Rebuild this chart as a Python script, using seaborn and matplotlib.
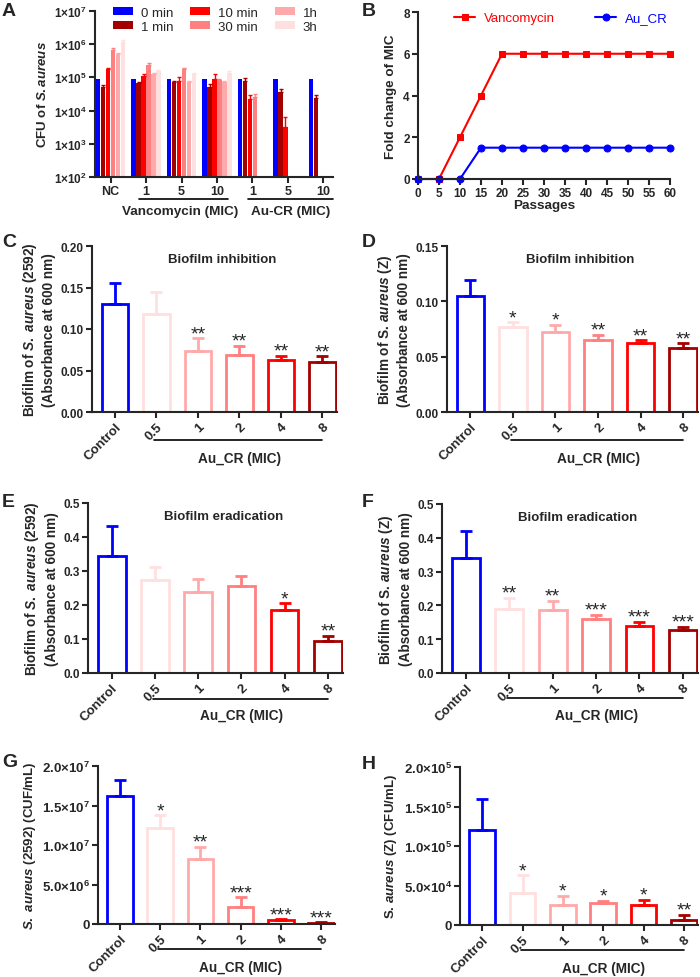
import numpy as np
import pandas as pd
import matplotlib
matplotlib.use('Agg')
import matplotlib.pyplot as plt
import seaborn as sns

nan = np.nan

# ---- Panel A: time-kill (log CFU) ----
groups = ['NC', 'V1', 'V5', 'V10', 'A1', 'A5', 'A10']
group_labels = ['NC', '1', '5', '10', '1', '5', '10']
times = ['0 min', '1 min', '10 min', '30 min', '1h', '3h']
cfu_0min = [8.7e4, 8.7e4, 8.7e4, 8.7e4, 8.7e4, 8.7e4, 8.7e4]
cfu_1min = [5.3e4, 6.9e4, 7.2e4, 5.3e4, 7.8e4, 3.6e4, 2.35e4]
cfu_10min = [1.8e5, 1.1e5, 7.8e4, 9.1e4, 2.2e4, 3.3e3, nan]
cfu_30min = [6.7e5, 2.3e5, 1.75e5, 8.3e4, 2.6e4, nan, nan]
cfu_1h = [5.2e5, 1.3e5, 7.2e4, 7.2e4, nan, nan, nan]
cfu_3h = [1.2e6, 1.55e5, 1.23e5, 1.38e5, nan, nan, nan]
sd_0min = [0, 0, 0, 0, 0, 0, 0]
sd_1min = [6e3, 4e3, 5e3, 1.0e4, 1.5e4, 8e3, 5e3]
sd_10min = [1.5e4, 1.8e4, 2.5e4, 3.5e4, 8e3, 3.2e3, nan]
sd_30min = [8e4, 4e4, 1.5e4, 8e3, 5e3, nan, nan]
sd_1h = [4e4, 1e4, 8e3, 8e3, nan, nan, nan]
sd_3h = [1.5e5, 1.5e4, 1e4, 1.5e4, nan, nan, nan]

# ---- Panel B: resistance passages ----
passages = [0, 5, 10, 15, 20, 25, 30, 35, 40, 45, 50, 55, 60]
mic_vanco = [0, 0, 2, 4, 6, 6, 6, 6, 6, 6, 6, 6, 6]
mic_aucr = [0, 0, 0, 1.5, 1.5, 1.5, 1.5, 1.5, 1.5, 1.5, 1.5, 1.5, 1.5]

# ---- Panels C-H: Au_CR dose series ----
mic_labels = ['Control', '0.5', '1', '2', '4', '8']
inhib_2592 = [0.130, 0.118, 0.074, 0.069, 0.063, 0.060]
inhib_2592_sd = [0.026, 0.027, 0.015, 0.011, 0.005, 0.007]
inhib_2592_sig = ['', '', '**', '**', '**', '**']
inhib_z = [0.105, 0.077, 0.072, 0.065, 0.062, 0.058]
inhib_z_sd = [0.014, 0.004, 0.007, 0.005, 0.003, 0.004]
inhib_z_sig = ['', '*', '*', '**', '**', '**']
erad_2592 = [0.345, 0.275, 0.237, 0.255, 0.185, 0.095]
erad_2592_sd = [0.088, 0.036, 0.040, 0.030, 0.020, 0.015]
erad_2592_sig = ['', '', '', '', '*', '**']
erad_z = [0.340, 0.188, 0.185, 0.160, 0.140, 0.127]
erad_z_sd = [0.080, 0.034, 0.029, 0.013, 0.012, 0.010]
erad_z_sig = ['', '**', '**', '***', '***', '***']
cfu_2592 = [1.62e7, 1.22e7, 8.2e6, 2.2e6, 4.5e5, 1.5e5]
cfu_2592_sd = [2.0e6, 1.6e6, 1.6e6, 1.2e6, 1.5e5, 1.0e5]
cfu_2592_sig = ['', '*', '**', '***', '***', '***']
cfu_z = [1.2e5, 4.0e4, 2.5e4, 2.8e4, 2.5e4, 6e3]
cfu_z_sd = [4.0e4, 2.3e4, 1.2e4, 2.5e3, 7e3, 7e3]
cfu_z_sig = ['', '*', '*', '*', '*', '**']

blue = '#0000FF'
dark_red = '#A30000'
red = '#FF0000'
salmon = '#FF8080'
pink = '#FFAAAA'
pale = '#FFE0E0'
time_colors = dict(zip(times, [blue, dark_red, red, salmon, pink, pale]))
bar_colors = [blue, pale, pink, salmon, red, dark_red]

sns.set_style('ticks')
plt.rcParams['font.family'] = ['Liberation Sans', 'DejaVu Sans']
plt.rcParams['font.weight'] = 'bold'
plt.rcParams['axes.labelweight'] = 'bold'
plt.rcParams['mathtext.fontset'] = 'custom'
plt.rcParams['mathtext.rm'] = 'Liberation Sans:bold'
plt.rcParams['mathtext.it'] = 'Liberation Sans:italic:bold'
plt.rcParams['mathtext.bf'] = 'Liberation Sans:bold'
plt.rcParams['axes.linewidth'] = 1.5
plt.rcParams['xtick.major.width'] = 1.5
plt.rcParams['ytick.major.width'] = 1.5
plt.rcParams['xtick.major.size'] = 4
plt.rcParams['ytick.major.size'] = 4
plt.rcParams['xtick.labelsize'] = 8.5
plt.rcParams['ytick.labelsize'] = 8.5
plt.rcParams['axes.labelsize'] = 9.5

W, H = 700, 978
fig = plt.figure(figsize=(W / 100, H / 100), dpi=100)


def px_axes(left, right, top, bottom):
    return fig.add_axes([left / W, 1 - bottom / H, (right - left) / W, (bottom - top) / H])


def style(ax):
    sns.despine(ax=ax)
    ax.tick_params(axis='both', direction='out', pad=2)
    for lab in ax.get_xticklabels() + ax.get_yticklabels():
        lab.set_fontweight('bold')


def sci(v, pos):
    if v == 0:
        return '0'
    e = int(np.floor(np.log10(v)))
    return f'{v / 10 ** e:.1f}×10$^{{{e}}}$'


def letter(x, y, s):
    fig.text(x / W, 1 - y / H, s, fontsize=14, fontweight='bold', va='top', ha='left')


# ---------------- Panel A ----------------
axA = px_axes(95, 333, 12, 178)
series = [(cfu_0min, sd_0min), (cfu_1min, sd_1min), (cfu_10min, sd_10min),
          (cfu_30min, sd_30min), (cfu_1h, sd_1h), (cfu_3h, sd_3h)]
rows = []
for t, (vals, sds) in zip(times, series):
    for g, v, s in zip(groups, vals, sds):
        rows.append({'group': g, 'time': t, 'cfu': v, 'sd': s})
dfA = pd.DataFrame(rows)
sns.barplot(data=dfA, x='group', y='cfu', hue='time', order=groups, hue_order=times,
            palette=time_colors, width=0.84, gap=0.12, errorbar=None, ax=axA,
            linewidth=0, saturation=1)
axA.set_yscale('log')
for t, cont in zip(times, axA.containers):
    for bar in cont:
        h = bar.get_height()
        if not np.isfinite(h) or h <= 0:
            continue
        cx = bar.get_x() + bar.get_width() / 2
        gi = int(round(cx))
        s = dfA[(dfA.group == groups[gi]) & (dfA.time == t)].sd.values[0]
        if s > 0:
            axA.errorbar(cx, h, yerr=[[0], [s]], fmt='none', ecolor=time_colors[t],
                         elinewidth=1, capsize=1.5, capthick=1)
axA.set_ylim(1e2, 1e7)
axA.set_xlim(-0.44, 6.27)
axA.set_yticks([1e2, 1e3, 1e4, 1e5, 1e6, 1e7])
axA.set_yticklabels([f'1×10$^{{{e}}}$' for e in range(2, 8)])
axA.minorticks_off()
axA.set_xticks(range(len(groups)))
axA.set_xticklabels(group_labels, fontsize=9)
axA.set_xlabel('')
axA.set_ylabel(r'CFU of $\it{S.aureus}$', labelpad=3)
leg = axA.legend(ncol=3, loc='upper left', bbox_to_anchor=(0.075, 1.026), frameon=False,
                 fontsize=9.5, handlelength=1.5, handleheight=0.5, columnspacing=1.3,
                 labelspacing=0.15, handletextpad=0.6, borderaxespad=0, borderpad=0)
for txt in leg.get_texts():
    txt.set_fontweight('normal')
style(axA)
trA = axA.get_xaxis_transform()
axA.plot([0.79, 3.3], [-0.135, -0.135], transform=trA, color='black', lw=1.2, clip_on=False)
axA.plot([3.86, 6.27], [-0.135, -0.135], transform=trA, color='black', lw=1.2, clip_on=False)
axA.text(1.97, -0.205, 'Vancomycin (MIC)', transform=trA, ha='center', va='center',
         fontsize=9.7, fontweight='bold')
axA.text(5.07, -0.205, 'Au-CR (MIC)', transform=trA, ha='center', va='center',
         fontsize=9.7, fontweight='bold')
letter(2, 3, 'A')

# ---------------- Panel B ----------------
axB = px_axes(418, 670, 13, 180)
sns.lineplot(x=passages, y=mic_vanco, color=red, marker='s', markersize=5,
             markeredgecolor=red, linewidth=1.5, label='Vancomycin', ax=axB, clip_on=False)
sns.lineplot(x=passages, y=mic_aucr, color=blue, marker='o', markersize=5,
             markeredgecolor=blue, linewidth=1.5, label='Au_CR', ax=axB, clip_on=False)
axB.set_xlim(0, 60)
axB.set_ylim(0, 8)
axB.set_xticks(passages)
axB.set_yticks([0, 2, 4, 6, 8])
axB.set_xlabel('Passages', fontsize=9.7, labelpad=0)
axB.set_ylabel('Fold change of MIC', fontsize=9.7)
legB = axB.legend(ncol=2, loc='upper left', bbox_to_anchor=(0.143, 1.0), frameon=False,
                  fontsize=9.5, handlelength=1.6, handletextpad=0.7, columnspacing=3.0,
                  borderaxespad=0, borderpad=0)
for txt, c in zip(legB.get_texts(), [red, blue]):
    txt.set_color(c)
    txt.set_fontweight('normal')
style(axB)
letter(362, 3, 'B')


# ---------------- Panels C-H ----------------
def dose_panel(ax, means, sds, sig, ylim, yticks, ylabel, title=None, sci_fmt=False,
               line_y=-0.17, text_y=-0.28, label_size=9.8, ytick_size=8.5):
    sns.barplot(x=mic_labels, y=means, hue=mic_labels, palette=bar_colors, fill=False,
                linewidth=2, width=0.64, legend=False, errorbar=None, ax=ax, saturation=1)
    for i, (m, s, c) in enumerate(zip(means, sds, bar_colors)):
        ax.errorbar(i, m, yerr=[[0], [s]], fmt='none', ecolor=c, elinewidth=2,
                    capsize=4.5, capthick=2)
        if sig[i]:
            ax.text(i, m + s, sig[i], ha='center', va='baseline',
                    fontsize=14, fontweight='normal')
    ax.set_ylim(*ylim)
    ax.set_yticks(yticks)
    ax.set_xlim(-0.55, 5.35)
    if sci_fmt:
        ax.yaxis.set_major_formatter(plt.FuncFormatter(sci))
    else:
        dec = 2 if ylim[1] < 0.3 else 1
        ax.set_yticklabels([f'{v:.{dec}f}' for v in yticks])
    ax.tick_params(axis='y', labelsize=ytick_size)
    ax.set_ylabel(ylabel, labelpad=3, linespacing=1.35, fontsize=label_size)
    if title:
        ax.text(0.53, 0.96, title, transform=ax.transAxes, ha='center', va='top',
                fontsize=9.5, fontweight='bold')
    ax.set_xticks(range(6))
    ax.set_xticklabels(mic_labels, rotation=45, ha='right', rotation_mode='anchor',
                       fontsize=9.5)
    style(ax)
    tr = ax.get_xaxis_transform()
    ax.plot([0.95, 5.0], [line_y, line_y], transform=tr, color='black', lw=1.2, clip_on=False)
    ax.text(3.0, text_y, 'Au_CR (MIC)', transform=tr, ha='center', va='center',
            fontsize=9.8, fontweight='bold')


lab_2592 = 'Biofilm of $\\it{S.\\ aureus}$ (2592)\n(Absorbance at 600 nm)'
lab_z = 'Biofilm of S. $\\it{aureus}$ (Z)\n(Absorbance at 600 nm)'

axC = px_axes(92, 337, 247, 413)
dose_panel(axC, inhib_2592, inhib_2592_sd, inhib_2592_sig, (0, 0.20),
           [0, 0.05, 0.10, 0.15, 0.20], lab_2592, 'Biofilm inhibition')
letter(2, 234, 'C')

axD = px_axes(447, 698, 247, 413)
dose_panel(axD, inhib_z, inhib_z_sd, inhib_z_sig, (0, 0.15),
           [0, 0.05, 0.10, 0.15], lab_z, 'Biofilm inhibition')
letter(362, 234, 'D')

axE = px_axes(88, 343, 504, 674)
dose_panel(axE, erad_2592, erad_2592_sd, erad_2592_sig, (0, 0.5),
           [0, 0.1, 0.2, 0.3, 0.4, 0.5], lab_2592, 'Biofilm eradication',
           line_y=-0.15, text_y=-0.25)
letter(2, 494, 'E')

axF = px_axes(442, 698, 505, 674)
dose_panel(axF, erad_z, erad_z_sd, erad_z_sig, (0, 0.5),
           [0, 0.1, 0.2, 0.3, 0.4, 0.5], lab_z, 'Biofilm eradication',
           line_y=-0.15, text_y=-0.25)
letter(362, 494, 'F')

axG = px_axes(98, 335, 767, 925)
dose_panel(axG, cfu_2592, cfu_2592_sd, cfu_2592_sig, (0, 2.0e7),
           [0, 5e6, 1e7, 1.5e7, 2e7], '$\\it{S.\\ aureus}$ (2592) (CUF/mL)',
           sci_fmt=True, line_y=-0.16, text_y=-0.27, label_size=9.5, ytick_size=9.5)
letter(2, 754, 'G')

axH = px_axes(460, 698, 768, 926)
dose_panel(axH, cfu_z, cfu_z_sd, cfu_z_sig, (0, 2.0e5),
           [0, 5e4, 1e5, 1.5e5, 2e5], 'S. $\\it{aureus}$ (Z) (CFU/mL)',
           sci_fmt=True, line_y=-0.16, text_y=-0.27, label_size=9.5, ytick_size=9.5)
letter(362, 756, 'H')

fig.savefig('out.png', dpi=100)
